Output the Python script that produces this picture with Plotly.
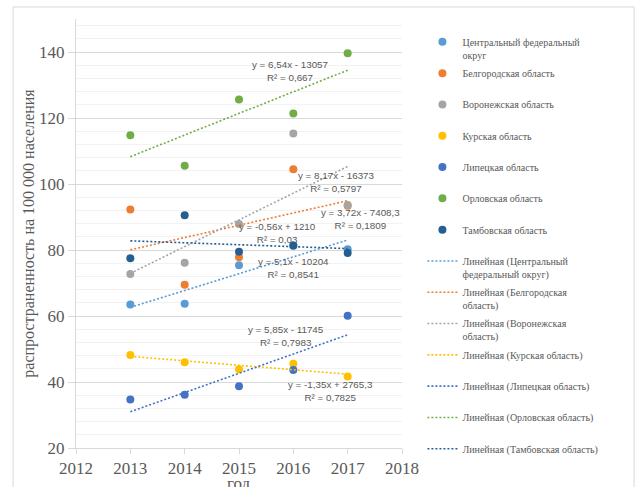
import numpy as np
import plotly.graph_objects as go

years = [2013, 2014, 2015, 2016, 2017]

regions = [
    "Центральный федеральный<br>округ",
    "Белгородская область",
    "Воронежская область",
    "Курская область",
    "Липецкая область",
    "Орловская область",
    "Тамбовская область",
]
trend_names = [
    "Линейная (Центральный<br>федеральный округ)",
    "Линейная (Белгородская<br>область)",
    "Линейная (Воронежская<br>область)",
    "Линейная (Курская область)",
    "Линейная (Липецкая область)",
    "Линейная (Орловская область)",
    "Линейная (Тамбовская область)",
]

cfo = [63.5, 63.7, 75.4, 81.3, 80.2]
belgorod = [92.3, 69.5, 77.8, 104.5, 93.4]
voronezh = [72.7, 76.1, 87.9, 115.3, 93.6]
kursk = [48.2, 46.0, 43.9, 45.5, 41.7]
lipetsk = [34.7, 36.1, 38.7, 43.6, 60.1]
orel = [114.8, 105.5, 125.6, 121.4, 139.6]
tambov = [77.5, 90.5, 79.5, 81.4, 79.1]
series = [cfo, belgorod, voronezh, kursk, lipetsk, orel, tambov]

equations = [
    "y = 5,1x - 10204<br>R² = 0,8541",
    "y = 3,72x - 7408,3<br>R² = 0,1809",
    "y = 8,17x - 16373<br>R² = 0,5797",
    "y = -1,35x + 2765,3<br>R² = 0,7825",
    "y = 5,85x - 11745<br>R² = 0,7983",
    "y = 6,54x - 13057<br>R² = 0,667",
    "y = -0,56x + 1210<br>R² = 0,03",
]

x_title = "год"
y_title = "распространенность на 100 000 населения"

# label placement (x, y in data units) for each equation
label_pos = [
    (2016.0, 74.5),
    (2017.24, 89.3),
    (2016.8, 100.5),
    (2016.68, 37.2),
    (2015.87, 53.9),
    (2015.93, 134.2),
    (2015.7, 85.2),
]

colors = ["#5B9BD5", "#ED7D31", "#A5A5A5", "#FFC000", "#4472C4", "#70AD47", "#255E91"]

def pad(name):
    return name if "<br>" in name else name + "<br>\u00a0"

fig = go.Figure()
for i, (name, vals, c) in enumerate(zip(regions, series, colors)):
    fig.add_trace(go.Scatter(
        x=years, y=vals, mode="markers", name=pad(name), legendgroup=f"m{i}",
        marker=dict(color=c, size=8),
    ))
for i, (name, vals, c) in enumerate(zip(trend_names, series, colors)):
    k, b = np.polyfit(years, vals, 1)
    fx = [years[0], years[-1]]
    fy = [k * x + b for x in fx]
    fig.add_trace(go.Scatter(
        x=fx, y=fy, mode="lines", name=pad(name), legendgroup=f"t{i}",
        line=dict(color=c, width=1.6, dash="2px,2px"),
    ))

for txt, (ax, ay) in zip(equations, label_pos):
    fig.add_annotation(
        x=ax, y=ay, text=txt, showarrow=False, xanchor="center", yanchor="middle",
        font=dict(family="Liberation Sans Narrow, Arial Narrow, sans-serif", size=9.8, color="#595959"),
    )

axis_font = dict(family="Liberation Serif", size=17, color="#595959")

# x-axis title (placed low, partly cropped as in the original)
fig.add_annotation(
    xref="paper", yref="paper", x=0.5, y=-0.056, xanchor="center", yanchor="top",
    text=x_title, showarrow=False, font=axis_font,
)

# outer chart border
fig.add_shape(type="rect", xref="paper", yref="paper",
              x0=-0.193, x1=1.712, y0=-0.12, y1=1.028,
              line=dict(color="#D9D9D9", width=1), fillcolor="rgba(0,0,0,0)", layer="below")

fig.update_layout(
    width=642, height=487,
    margin=dict(l=76, r=240, t=19, b=39, autoexpand=False),
    paper_bgcolor="white", plot_bgcolor="white",
    showlegend=True,
    legend=dict(
        x=1.0626, xanchor="left",
        y=0.977, yanchor="top",
        maxheight=480,
        font=dict(family="Liberation Serif", size=10, color="#595959"),
        valign="top", tracegroupgap=2.3, bgcolor="rgba(0,0,0,0)",
    ),
    xaxis=dict(
        range=[2012, 2018], dtick=1, tick0=2012,
        showgrid=False, showline=True, linecolor="#D9D9D9", linewidth=1,
        ticks="outside", ticklen=5, tickcolor="#D9D9D9",
        tickfont=axis_font,
        zeroline=False,
    ),
    yaxis=dict(
        range=[20, 150], dtick=20, tick0=20,
        showgrid=True, gridcolor="#D9D9D9", gridwidth=1,
        showline=True, linecolor="#D9D9D9", linewidth=1,
        ticks="outside", ticklen=7, tickcolor="#D9D9D9",
        tickfont=axis_font,
        minor=dict(dtick=4, showgrid=True, gridcolor="#F2F2F2", gridwidth=1),
        title=dict(text=y_title, font=dict(family="Liberation Serif", size=16, color="#595959"), standoff=0),
        zeroline=False,
    ),
)

fig.write_html("out.html")
